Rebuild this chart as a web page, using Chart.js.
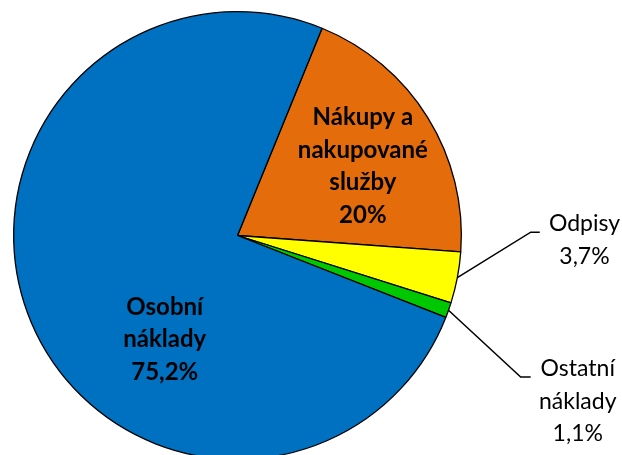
<!DOCTYPE html>
<html>
<head>
<meta charset="utf-8">
<script src="https://cdn.jsdelivr.net/npm/chart.js@4.4.0/dist/chart.umd.min.js"></script>
<style>
  html, body { margin: 0; padding: 0; background: #fff; overflow: hidden; width: 622px; height: 455px; }
  #wrap { position: relative; width: 622px; height: 472px; }
</style>
</head>
<body>
<div id="wrap"><canvas id="graf"></canvas></div>
<script>
// struktura nákladů
const kategorie = [['Nákupy a', 'nakupované', 'služby'], ['Odpisy'], ['Ostatní', 'náklady'], ['Osobní', 'náklady']]
const hodnoty = [20, 3.7, 1.1, 75.2]
const popisky = ['20%', '3,7%', '1,1%', '75,2%']
const barvy = ['#E46C0A', '#FFFF00', '#00C800', '#0070C0']

// kde sedí popisky (násobky poloměru od středu), null = bez vodící čáry
const umisteni = [
    { x: 0.56, y: -0.31, tucne: true, cara: null },
    { x: 1.55, y: 0.02, tucne: false, cara: { x: 1.31, y: -0.015, konec: 9 } },
    { x: 1.52, y: 0.74, tucne: false, cara: { x: 1.265, y: 0.632, konec: 10 } },
    { x: -0.325, y: 0.465, tucne: true, cara: null }
]

const popiskyPlugin = {
    id: 'popisky',
    afterDraw(chart) {
        const ctx = chart.ctx
        const oblouky = chart.getDatasetMeta(0).data
        ctx.save()
        oblouky.forEach((arc, i) => {
            const r = arc.outerRadius
            const u = umisteni[i]
            const tx = arc.x + u.x * r
            const ty = arc.y + u.y * r

            if (u.cara) {
                // vodící čára od středu oblouku
                const mid = (arc.startAngle + arc.endAngle) / 2
                const sx = arc.x + Math.cos(mid) * r
                const sy = arc.y + Math.sin(mid) * r
                const ex = arc.x + u.cara.x * r
                const ey = arc.y + u.cara.y * r
                ctx.beginPath()
                ctx.moveTo(sx, sy)
                ctx.lineTo(ex, ey)
                ctx.lineTo(ex + u.cara.konec, ey)
                ctx.strokeStyle = '#000'
                ctx.lineWidth = 1.5
                ctx.stroke()
            }

            const radky = kategorie[i].concat([popisky[i]])
            const vyska = 32.5
            ctx.font = u.tucne ? 'bold 24px Lato' : '23px Lato'
            ctx.fillStyle = '#000'
            ctx.textAlign = 'center'
            ctx.textBaseline = 'middle'
            radky.forEach((t, k) => {
                ctx.fillText(t, tx, ty + (k - (radky.length - 1) / 2) * vyska)
            })
        })
        ctx.restore()
    }
}

const graf = new Chart(document.getElementById('graf'), {
    type: 'pie',
    data: {
        labels: kategorie.map(k => k.join(' ')),
        datasets: [{
            data: hodnoty,
            backgroundColor: barvy,
            borderColor: '#000',
            borderWidth: 1.3
        }]
    },
    options: {
        responsive: true,
        maintainAspectRatio: false,
        animation: false,
        rotation: 22.2,
        layout: {
            padding: { left: 13, top: 11, right: 160, bottom: 12 }
        },
        plugins: {
            legend: { display: false },
            tooltip: { enabled: false }
        }
    },
    plugins: [popiskyPlugin]
})
</script>
</body>
</html>
